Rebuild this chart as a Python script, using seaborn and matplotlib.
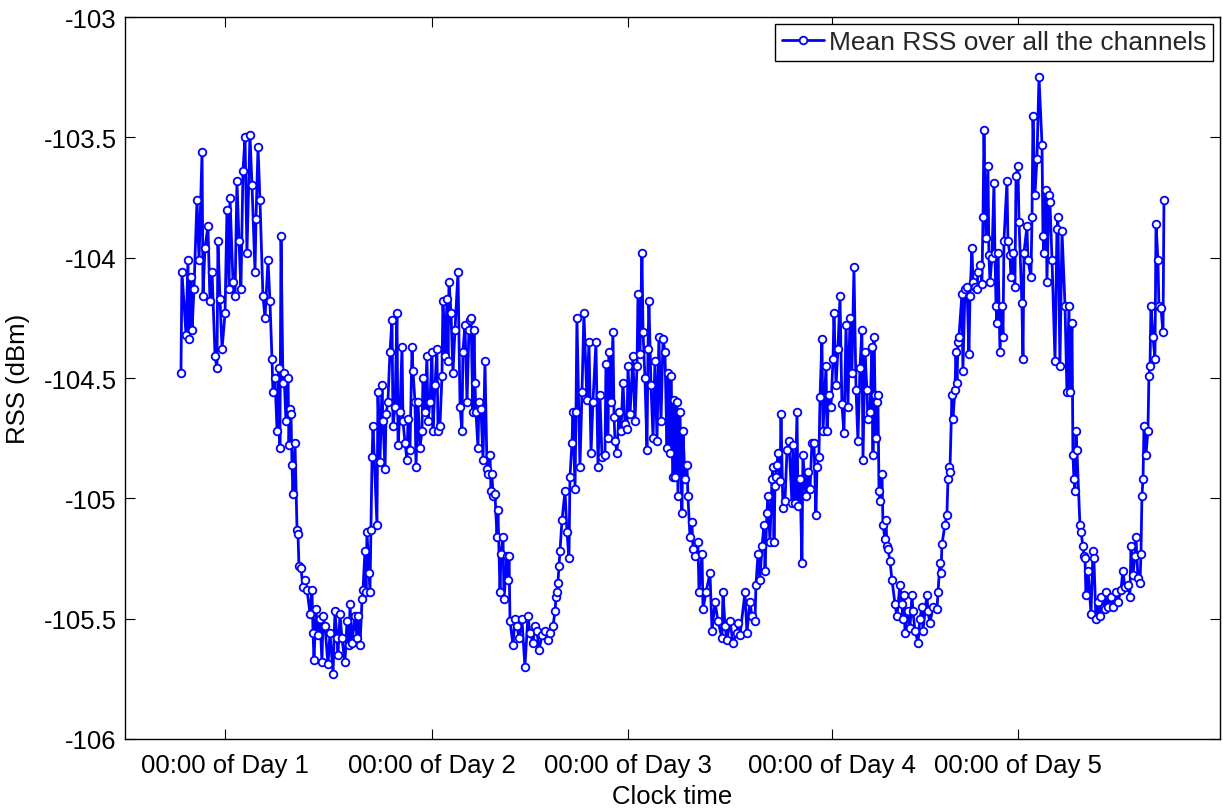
import numpy as np
import pandas as pd
import matplotlib
matplotlib.use("Agg")
import matplotlib.pyplot as plt
import seaborn as sns

# sample index (10 min samples) and mean RSS over all channels
sample_idx = [
    40.9, 41.6, 44.6, 46.0, 46.8, 48.2, 49.0, 50.4, 52.6, 54.1, 56.3, 57.0, 58.4, 60.6, 62.1, 63.6,
    65.8, 67.2, 67.9, 69.4, 70.9, 73.1, 74.5, 76.0, 76.7, 78.9, 80.4, 81.8, 83.3, 84.7, 86.2, 87.7,
    89.1, 91.3, 92.8, 95.0, 95.7, 97.2, 98.6, 100.8, 102.3, 104.5, 105.9, 107.4, 108.1, 109.6,
    111.1, 112.5, 113.2, 114.0, 115.4, 116.2, 117.6, 119.1, 119.8, 120.5, 121.3, 122.0, 122.7, 124.2,
    125.7, 126.4, 127.1, 128.6, 130.0, 131.5, 133.0, 135.2, 136.6, 137.4, 138.1, 139.5, 141.0, 142.5,
    143.9, 144.7, 146.1, 148.3, 149.8, 152.0, 153.4, 154.9, 155.6, 157.1, 158.5, 160.7, 162.2, 163.7,
    164.4, 165.8, 168.0, 169.5, 170.2, 171.7, 173.2, 173.9, 175.3, 176.1, 176.8, 178.3, 179.0, 179.7,
    180.5, 181.2,
    184.1, 184.8, 186.3, 187.8, 188.5, 190.0, 190.7, 192.1, 193.6, 195.1, 195.8, 197.3, 198.7, 199.5,
    200.9, 202.4, 203.1, 204.6, 206.0, 206.8, 208.2, 209.7, 210.4, 211.9, 212.6, 214.1, 215.5, 217.0,
    217.7, 219.2, 220.6, 221.4, 222.8, 224.3, 225.0, 226.5, 227.9, 228.7, 230.1, 231.6, 232.3, 233.8,
    235.3, 236.0, 236.7, 238.2, 239.6, 241.1, 243.3, 244.8, 246.2, 246.9, 248.4, 249.9, 251.3, 252.1,
    252.8, 254.2,
    255.0, 255.7, 256.4, 257.9, 258.6, 260.1, 261.6, 263.0, 264.5, 265.2, 266.7, 267.4, 268.1, 268.9,
    270.3, 271.8, 272.5, 274.0, 274.7, 276.2, 276.9, 279.1, 279.8, 280.6, 281.3, 283.5, 284.9, 286.4,
    287.9, 290.0, 292.2, 294.4, 295.9, 298.1, 299.5, 301.0, 302.5, 304.7, 306.9, 309.0, 310.5, 312.7,
    314.2, 314.9, 315.6, 316.3, 317.1, 317.8, 319.3, 321.5, 322.9, 324.4, 325.1, 326.6, 327.3, 328.8,
    329.5, 330.2, 332.4, 333.9, 335.3, 337.5, 339.0, 340.5, 341.9, 344.1, 345.6, 347.0, 348.5, 350.7,
    351.4, 352.9, 353.6, 355.1, 356.5, 357.3, 358.0, 359.5, 360.9, 362.4, 363.8, 365.3, 366.8, 367.5,
    369.0, 371.1, 372.6, 374.1, 374.8, 376.3, 377.7, 378.5, 379.9, 381.4, 382.1, 382.8, 384.3, 385.8,
    387.2, 388.7, 390.1, 391.6, 393.1, 394.5, 396.0, 396.7, 398.2, 398.9, 400.4,
    401.1, 401.8, 403.3, 404.0, 405.5, 406.9, 407.7, 409.1, 410.6, 411.3, 412.8, 414.2, 415.0, 416.4,
    418.6, 419.4, 421.6, 422.3, 424.5, 427.4, 428.9, 431.1, 433.2, 436.2, 436.9, 438.4, 439.8, 442.0,
    444.2, 447.1, 447.9, 449.3, 453.0, 454.4, 456.6, 458.1, 460.3, 461.0, 462.5, 463.9, 465.4, 466.9,
    467.6, 469.0, 469.8, 471.2, 472.7, 473.4,
    474.2, 474.9, 475.6, 476.4, 477.1, 478.5, 479.3, 480.7, 482.2, 483.7, 485.1, 487.3, 488.0, 489.5,
    491.0, 491.7, 493.2, 494.6, 495.3, 497.5, 499.0, 500.5, 501.9, 503.4, 504.8, 505.6, 507.0, 507.8,
    509.2, 510.0, 512.2, 512.9, 514.3, 515.8, 517.3, 518.0, 519.5, 520.9, 522.4, 523.8, 525.3, 526.8,
    528.2, 529.7, 531.1, 532.6, 534.1, 535.5, 537.0, 538.4, 539.2, 540.6, 542.1, 542.8, 544.3, 545.8,
    546.5,
    547.2, 548.0, 548.7, 549.4, 550.1, 550.9, 551.6, 553.1, 553.8, 555.3, 556.0, 556.7, 557.4, 558.9,
    560.4, 562.6, 564.0, 566.2, 567.7, 568.4, 569.1, 569.9, 572.1, 573.5, 575.0, 575.7, 577.2, 579.4,
    580.8, 582.3, 583.0, 585.9, 586.7, 588.1, 590.3, 593.3, 594.0, 595.4, 596.2, 596.9, 599.1, 600.5,
    601.3, 602.0, 602.7, 604.2, 604.9, 606.4, 607.1, 607.9, 608.6, 609.3, 611.5, 612.2, 613.7, 615.2,
    616.6, 617.4, 618.8, 619.6,
    621.0, 622.5, 623.2, 624.7, 626.1, 626.9, 627.6, 629.0, 630.5, 631.2, 632.0, 633.4, 634.9, 635.6,
    636.4, 637.1, 637.8, 639.3, 640.7, 641.5, 642.2, 644.4, 645.1, 646.6, 647.3, 648.8, 650.2, 651.0,
    652.4, 653.2, 655.3, 656.1, 656.8, 659.0, 659.7, 661.9, 662.7, 663.4, 664.8, 666.3, 667.8, 670.0,
    670.7, 671.4, 672.9, 673.6, 675.1, 675.8, 677.3, 679.5, 680.9, 681.6, 683.1, 684.6, 686.8, 688.2,
    689.7, 690.4, 691.9, 692.6,
    693.3, 694.1, 694.8, 695.5, 697.7, 698.5, 699.9, 700.7, 701.4, 702.1, 703.6, 705.8, 707.2, 707.9,
    709.4, 710.9, 712.3, 713.1, 716.0, 716.7, 718.2, 720.4, 721.8, 724.0, 725.5, 727.7, 729.1, 730.6,
    732.8, 734.2, 735.0, 736.4, 737.9, 738.6, 740.1, 741.6, 742.3, 743.0, 743.8, 744.5, 745.9, 747.4,
    748.1, 748.9, 749.6, 751.1, 752.5, 753.3, 754.7, 755.4, 756.9, 758.4, 759.1,
]

rss_dbm = [
    -104.48, -104.06, -104.32, -104.01, -104.34, -104.08, -104.30, -104.13, -103.76, -104.01, -103.56, -104.16, -103.96, -103.87, -104.18, -104.06,
    -104.41, -104.46, -103.93, -104.17, -104.38, -104.23, -103.80, -104.13, -103.75, -104.10, -104.16, -103.68, -103.93, -104.13, -103.64, -103.50,
    -103.98, -103.49, -103.70, -104.06, -103.84, -103.54, -103.76, -104.16, -104.25, -104.01, -104.18, -104.42, -104.56, -104.50,
    -104.72, -104.46, -104.79, -103.91, -104.52, -104.48, -104.68, -104.50, -104.78, -104.63, -104.65, -104.86, -104.98, -104.77,
    -105.13, -105.15, -105.28, -105.29, -105.37, -105.34, -105.38, -105.48, -105.38, -105.56, -105.67, -105.46, -105.57, -105.50,
    -105.68, -105.49, -105.53, -105.69, -105.56, -105.73, -105.47, -105.58, -105.65, -105.48, -105.58, -105.68, -105.51, -105.61,
    -105.44, -105.60, -105.49, -105.58, -105.49, -105.61, -105.42, -105.38, -105.22, -105.39, -105.14, -105.31, -105.39, -105.13,
    -104.83, -104.70,
    -105.11, -104.56, -104.85, -104.53, -104.68, -104.88, -104.65, -104.60, -104.39, -104.26, -104.70, -104.62, -104.23, -104.78,
    -104.64, -104.37, -104.68, -104.77, -104.84, -104.67, -104.80, -104.37, -104.47, -104.60, -104.87, -104.60, -104.79, -104.72,
    -104.50, -104.64, -104.41, -104.68, -104.60, -104.39, -104.72, -104.53, -104.38, -104.72, -104.70, -104.49, -104.18, -104.41,
    -104.17, -104.43, -104.10, -104.23, -104.48, -104.30, -104.06, -104.62, -104.72, -104.39, -104.28, -104.60, -104.30, -104.26,
    -104.25, -104.64,
    -104.30, -104.52, -104.64, -104.79, -104.60, -104.63, -104.84, -104.43, -104.88, -104.90, -104.82, -104.97, -104.90, -104.99,
    -104.98, -105.16, -105.05, -105.39, -105.23, -105.16, -105.42, -105.24, -105.34, -105.24, -105.51, -105.61, -105.50, -105.53,
    -105.58, -105.50, -105.70, -105.49, -105.56, -105.60, -105.53, -105.55, -105.63, -105.57, -105.55, -105.59, -105.56, -105.53,
    -105.47, -105.41, -105.39, -105.35, -105.28, -105.22, -105.09, -104.97, -105.14, -105.25, -104.91, -104.77, -104.64, -104.96,
    -104.64, -104.25, -104.87, -104.56, -104.23, -104.59, -104.35, -104.81, -104.60, -104.35, -104.87, -104.57, -104.83, -104.82,
    -104.44, -104.75, -104.39, -104.60, -104.31, -104.66, -104.76, -104.81, -104.64, -104.72, -104.52, -104.69, -104.71, -104.45,
    -104.65, -104.41, -104.68, -104.45, -104.15, -104.40, -103.98, -104.31, -104.50, -104.80, -104.38, -104.18, -104.53, -104.75,
    -104.43, -104.76, -104.33, -104.68, -104.34, -104.39, -104.79, -104.48, -104.81, -104.49, -104.91,
    -104.59, -104.91, -104.60, -104.99, -104.64, -105.06, -104.72, -104.92, -104.86, -104.99, -105.16, -105.10, -105.21, -105.24,
    -105.18, -105.39, -105.23, -105.46, -105.39, -105.31, -105.55, -105.43, -105.51, -105.58, -105.39, -105.53, -105.59, -105.51,
    -105.60, -105.56, -105.52, -105.57, -105.39, -105.56, -105.43, -105.49, -105.51, -105.36, -105.23, -105.34, -105.20, -105.11,
    -105.30, -105.06, -104.99, -105.18, -104.92, -104.87,
    -105.18, -104.95, -104.91, -104.86, -104.81, -104.93, -104.65, -105.04, -105.01, -104.80, -104.76, -105.02, -104.78, -105.02,
    -104.64, -105.03, -104.92, -105.27, -104.82, -104.99, -104.89, -104.96, -104.77, -104.77, -105.07, -104.87, -104.83, -104.58,
    -104.34, -104.72, -104.45, -104.72, -104.57, -104.62, -104.42, -104.23, -104.53, -104.38, -104.16, -104.61, -104.73, -104.28,
    -104.62, -104.25, -104.48, -104.04, -104.55, -104.76, -104.46, -104.30, -104.84, -104.39, -104.55, -104.67, -104.64, -104.37,
    -104.82,
    -104.33, -104.57, -104.75, -104.60, -104.57, -104.97, -105.01, -104.90, -105.11, -105.17, -105.09, -105.20, -105.21, -105.26,
    -105.34, -105.44, -105.49, -105.36, -105.44, -105.50, -105.40, -105.56, -105.47, -105.54, -105.40, -105.47, -105.55, -105.60,
    -105.50, -105.45, -105.55, -105.40, -105.47, -105.52, -105.45, -105.46, -105.39, -105.27, -105.31, -105.19, -105.11, -105.07,
    -104.92, -104.87, -104.89, -104.57, -104.67, -104.55, -104.39, -104.52, -104.35, -104.33, -104.15, -104.47, -104.13, -104.12,
    -104.40, -104.16, -103.96, -104.10,
    -104.12, -104.13, -104.06, -104.03, -104.11, -103.83, -103.47, -103.92, -103.62, -103.99, -104.10, -104.00, -103.69, -103.98,
    -104.20, -104.27, -103.98, -104.39, -104.20, -104.33, -103.93, -103.68, -103.93, -103.99, -104.08, -103.98, -104.12, -103.66,
    -103.62, -103.85, -104.19, -104.42, -103.98, -103.87, -104.01, -104.08, -103.83, -103.41, -103.74, -103.59, -103.25, -103.53,
    -103.91, -103.98, -103.72, -104.10, -103.74, -103.77, -104.01, -104.43, -103.88, -103.83, -104.45, -103.89, -104.20, -104.56,
    -104.20, -104.56, -104.27, -104.82,
    -104.92, -104.97, -104.72, -104.80, -105.11, -105.14, -105.20, -105.24, -105.25, -105.40, -105.30, -105.48, -105.22, -105.25,
    -105.50, -105.43, -105.49, -105.41, -105.46, -105.39, -105.45, -105.41, -105.45, -105.39, -105.43, -105.38, -105.30, -105.37,
    -105.36, -105.41, -105.20, -105.32, -105.24, -105.16, -105.33, -105.35, -105.23, -104.99, -104.92, -104.70, -104.82, -104.72,
    -104.49, -104.45, -104.20, -104.33, -104.42, -103.86, -104.01, -104.20, -104.21, -104.31, -103.76,
]

# x positions of the "00:00 of Day N" ticks (sample index)
day_ticks = [73.1, 224.3, 367.5, 516.5, 652.4]
day_labels = ["00:00 of Day 1", "00:00 of Day 2", "00:00 of Day 3", "00:00 of Day 4", "00:00 of Day 5"]
rss_ticks = [-106, -105.5, -105, -104.5, -104, -103.5, -103]
rss_tick_labels = ["-106", "-105.5", "-105", "-104.5", "-104", "-103.5", "-103"]

sns.set_theme(style="ticks")
plt.rcParams["font.family"] = ["Liberation Sans", "DejaVu Sans"]
plt.rcParams["axes.unicode_minus"] = False

df = pd.DataFrame({"sample": sample_idx, "rss": rss_dbm})

fig = plt.figure(figsize=(12.23, 8.12), dpi=100)
ax = fig.add_axes([0.1022, 0.0887, 0.8953, 0.8891])

sns.lineplot(data=df, x="sample", y="rss", estimator=None, sort=False, ax=ax,
             color="blue", linewidth=2.0, marker="o", markersize=5.5,
             markerfacecolor="white", markeredgecolor="blue", markeredgewidth=1.3,
             label="Mean RSS over all the channels")

ax.set_xlim(0, 800)
ax.set_ylim(-106, -103)
ax.set_xticks(day_ticks, day_labels)
ax.set_yticks(rss_ticks, rss_tick_labels)
ax.tick_params(direction="in", length=7, width=0.8, top=True, right=True,
               labelsize=18.5, colors="black")
ax.tick_params(axis="x", pad=10)
ax.tick_params(axis="y", pad=6)
for sp in ax.spines.values():
    sp.set_color("black")
    sp.set_linewidth(1.0)

ax.set_xlabel("Clock time", fontsize=18.5, labelpad=5, color="black")
ax.set_ylabel("RSS (dBm)", fontsize=18.5, labelpad=10, color="black")

leg = ax.legend(loc="upper right", fontsize=19, fancybox=False, edgecolor="black",
                framealpha=1, handlelength=1.6, handletextpad=0.2,
                borderpad=0.25, borderaxespad=0.25)
leg.get_frame().set_linewidth(1.0)

fig.savefig("out.png", dpi=100)
